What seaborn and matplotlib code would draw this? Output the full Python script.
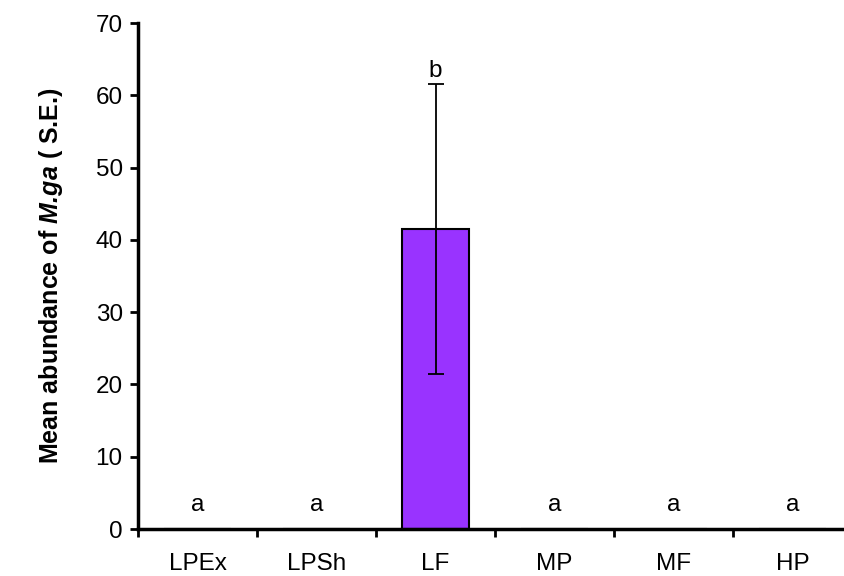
import matplotlib
matplotlib.use("Agg")
import matplotlib.pyplot as plt
import seaborn as sns
import pandas as pd
import numpy as np

# Mean abundance per habitat with standard errors and significance letters
habitats = ["LPEx", "LPSh", "LF", "MP", "MF", "HP"]
means = [0.0, 0.0, 41.5, 0.0, 0.0, 0.0]
std_err = [0.0, 0.0, 20.0, 0.0, 0.0, 0.0]
letters = ["a", "a", "b", "a", "a", "a"]

sns.set_theme(style="white")
plt.rcParams["font.family"] = ["Liberation Sans", "DejaVu Sans"]
plt.rcParams["mathtext.fontset"] = "custom"
plt.rcParams["mathtext.rm"] = "Liberation Sans:bold"
plt.rcParams["mathtext.bfit"] = "Liberation Sans:italic:bold"

FS = 17.5

df = pd.DataFrame({"habitat": habitats, "mean": means})

fig = plt.figure(figsize=(8.44, 5.76), dpi=100)
ax = fig.add_axes([138 / 844, (576 - 529) / 576, (852 - 138) / 844, (529 - 23) / 576])

sns.barplot(data=df, x="habitat", y="mean", color="#9933FF", saturation=1,
            width=0.57, edgecolor="black", linewidth=1.5, ax=ax, errorbar=None)

x = np.arange(len(habitats))
has_err = np.array(std_err) > 0
ax.errorbar(x[has_err], np.array(means)[has_err], yerr=np.array(std_err)[has_err],
            fmt="none", ecolor="black", elinewidth=1.3, capsize=6, capthick=1.3)

for xi, m, se, lab in zip(x, means, std_err, letters):
    y = m + se + 1.0 if se > 0 else 2.5
    ax.text(xi, y, lab, ha="center", va="baseline", fontsize=FS, color="black")

ax.set_ylim(0, 70)
ax.set_xlim(-0.5, len(habitats) - 0.5)
ax.set_yticks(range(0, 71, 10))
ax.set_xticks(x)
ax.set_xticklabels(habitats)
ax.set_xticks(np.arange(-0.5, len(habitats), 1.0), minor=True)
ax.tick_params(axis="x", which="major", length=0, pad=17, labelsize=FS, colors="black")
ax.tick_params(axis="x", which="minor", length=6, width=2, direction="out", bottom=True, color="black")
ax.tick_params(axis="y", which="major", length=6, width=2, direction="out", left=True,
               labelsize=FS, pad=5, colors="black")

ax.set_xlabel("")
ax.set_ylabel(r"Mean abundance of $\mathbfit{M.}\!\mathbfit{ga}$ ( S.E.)", fontsize=18,
              fontweight="bold", labelpad=22, color="black")

for side in ["top", "right"]:
    ax.spines[side].set_visible(False)
for side in ["left", "bottom"]:
    ax.spines[side].set_linewidth(2.5)
    ax.spines[side].set_color("black")

fig.savefig("out.png", dpi=100)
